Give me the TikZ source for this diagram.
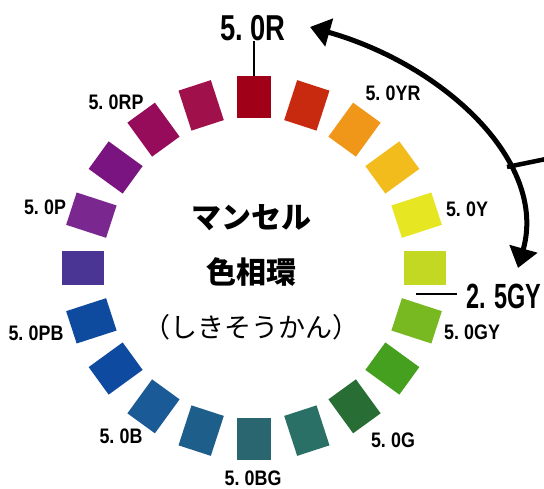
\documentclass[tikz,border=0pt]{standalone}
\usepackage{fontspec}
\setmainfont{Liberation Sans}
\newfontfamily\jpf{Noto Sans CJK JP}
\newfontfamily\labf{Liberation Sans}[FakeStretch=0.85]
\newfontfamily\bigf{Liberation Sans}[FakeStretch=0.76]
\newfontfamily\gyf{Liberation Sans}[FakeStretch=0.67]
\usetikzlibrary{arrows.meta}
\definecolor{h0}{HTML}{A00018}
\definecolor{h1}{HTML}{C82A10}
\definecolor{h2}{HTML}{F09618}
\definecolor{h3}{HTML}{F2BC1C}
\definecolor{h4}{HTML}{E6E622}
\definecolor{h5}{HTML}{C2D822}
\definecolor{h6}{HTML}{78B820}
\definecolor{h7}{HTML}{46A020}
\definecolor{h8}{HTML}{286E34}
\definecolor{h9}{HTML}{2A7066}
\definecolor{h10}{HTML}{2A6670}
\definecolor{h11}{HTML}{1E5E8A}
\definecolor{h12}{HTML}{1A5A96}
\definecolor{h13}{HTML}{0E4AA0}
\definecolor{h14}{HTML}{0E4A9E}
\definecolor{h15}{HTML}{4A3494}
\definecolor{h16}{HTML}{7A2890}
\definecolor{h17}{HTML}{7A1480}
\definecolor{h18}{HTML}{960C5A}
\definecolor{h19}{HTML}{A0104A}
\begin{document}
\begin{tikzpicture}[x=1pt,y=-1pt,
  chip/.style={draw=none, inner sep=0pt, minimum width=34pt, minimum height=42pt},
  lab/.style={font=\labf\bfseries\fontsize{21}{21}\selectfont, inner sep=0pt},
  biglab/.style={font=\bigf\bfseries\fontsize{36}{36}\selectfont, inner sep=0pt},
  gylab/.style={font=\gyf\bfseries\fontsize{35}{35}\selectfont, inner sep=0pt},
  jpbold/.style={font=\jpf\bfseries\fontsize{30}{30}\selectfont, inner sep=0pt},
  jpreg/.style={font=\jpf\fontsize{27}{27}\selectfont, inner sep=0pt},
  thinline/.style={line width=1.5pt},
  bigarrow/.style={line width=5pt, {Triangle[length=20pt,width=28pt]}-{Triangle[length=20pt,width=28pt]}}]
\useasboundingbox (0,0) rectangle (544,489);
\fill[white] (0,0) rectangle (544,489);
\foreach \i in {0,...,19}{
  \pgfmathsetmacro\a{18*\i}
  \node[chip, fill=h\i, rotate=-\a] (chip\i) at ({254+171*sin(\a)},{268-171*cos(\a)}) {};
}
% labels
\node[biglab] (lR) at (253,28) {5.\hspace{0.2em}0R};
\node[lab] (lYR) at (393,93) {5.\hspace{0.25em}0YR};
\node[lab] (lY) at (467,209) {5.\hspace{0.25em}0Y};
\node[gylab] (lGY) at (504,296) {2.\hspace{0.25em}5GY};
\node[lab] (l5GY) at (472,332) {5.\hspace{0.25em}0GY};
\node[lab] (lG) at (393,440) {5.\hspace{0.25em}0G};
\node[lab] (lBG) at (253,478) {5.\hspace{0.25em}0BG};
\node[lab] (lB) at (121,436) {5.\hspace{0.25em}0B};
\node[lab] (lPB) at (36,333) {5.\hspace{0.25em}0PB};
\node[lab] (lP) at (45,207) {5.\hspace{0.25em}0P};
\node[lab] (lRP) at (116,102) {5.\hspace{0.25em}0RP};
% centre text
\node[jpbold] (t1) at (251,218) {マンセル};
\node[jpbold] (t2) at (251,272) {色相環};
\node[jpreg] (t3) at (251,327) {（しきそうかん）};
% leader lines
\draw[thinline] (chip0.north) -- (chip0.north |- lR.south);
\coordinate (gyend) at (416,294);
\draw[thinline] (gyend) -- ([xshift=-9pt]lGY.west |- gyend);
% big arrow
\coordinate (ta) at (310,27);
\coordinate (tb) at (518,268);
\draw[bigarrow] (ta) .. controls (444,65) and (548,162) .. (tb);
\coordinate (bj) at (507,167);
\coordinate (br) at (546,159);
\draw[line width=4.5pt] (bj) -- (br);
\end{tikzpicture}
\end{document}
